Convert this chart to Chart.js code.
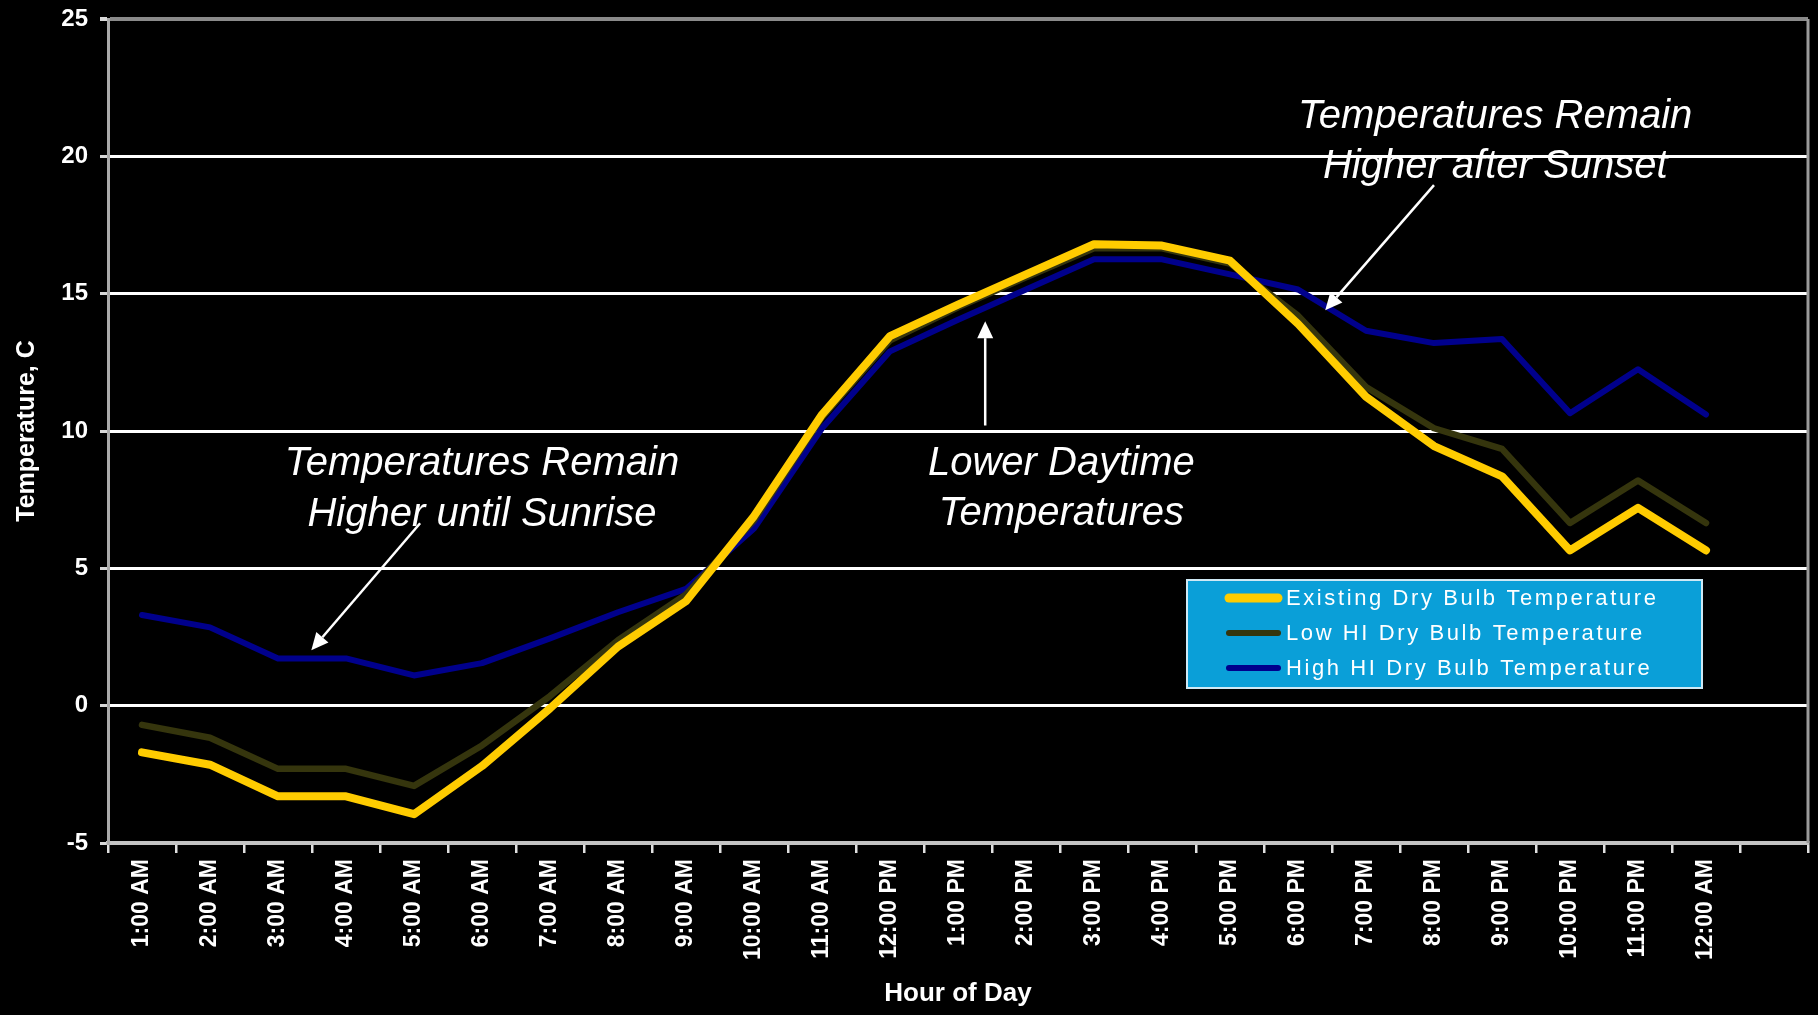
<!DOCTYPE html>
<html>
<head>
<meta charset="utf-8">
<title>Hourly Dry Bulb Temperature</title>
<script src="https://cdn.jsdelivr.net/npm/chart.js@4/dist/chart.umd.min.js"></script>
<style>
  html, body { margin: 0; padding: 0; background: #000; }
  canvas { display: block; }
</style>
</head>
<body>
<canvas id="tempChart" width="1818" height="1015"></canvas>
<script>
// Hour-of-day categories (the last slot is left empty on the axis)
const hours = ['1:00 AM', '2:00 AM', '3:00 AM', '4:00 AM', '5:00 AM', '6:00 AM',
  '7:00 AM', '8:00 AM', '9:00 AM', '10:00 AM', '11:00 AM', '12:00 PM',
  '1:00 PM', '2:00 PM', '3:00 PM', '4:00 PM', '5:00 PM', '6:00 PM',
  '7:00 PM', '8:00 PM', '9:00 PM', '10:00 PM', '11:00 PM', '12:00 AM', ''];

// Dry bulb temperatures, °C
const existingTemp = [-1.7, -2.15, -3.3, -3.3, -3.95, -2.2, -0.1, 2.15, 3.8, 6.9,
  10.6, 13.45, 14.6, 15.7, 16.8, 16.75, 16.2, 13.9, 11.25, 9.45, 8.35, 5.65, 7.2, 5.65];
const lowHiTemp = [-0.7, -1.17, -2.3, -2.3, -2.92, -1.45, 0.35, 2.38, 4.05, 6.75,
  10.5, 13.3, 14.5, 15.6, 16.65, 16.65, 16.1, 14.2, 11.6, 10.1, 9.35, 6.65, 8.2, 6.65];
const highHiTemp = [3.3, 2.85, 1.72, 1.72, 1.1, 1.55, 2.45, 3.4, 4.25, 6.45,
  10.1, 12.9, 14.05, 15.15, 16.25, 16.25, 15.7, 15.15, 13.65, 13.2, 13.35, 10.65, 12.25, 10.6];

const seriesNames = ['Existing Dry Bulb Temperature', 'Low HI Dry Bulb Temperature', 'High HI Dry Bulb Temperature'];

// Y axis range and step
const yMin = -5, yMax = 25, yStep = 5;

// Callout notes, placed in data units (category index, °C)
const notes = [
  { lines: ['Temperatures Remain', 'Higher until Sunrise'], at: [5.0, 8.39], lineGap: 1.86,
    arrowFrom: [4.09, 6.64], arrowTo: [2.49, 2.02] },
  { lines: ['Lower Daytime', 'Temperatures'], at: [13.52, 8.39], lineGap: 1.8,
    arrowFrom: [12.4, 10.2], arrowTo: [12.4, 14.0] },
  { lines: ['Temperatures Remain', 'Higher after Sunset'], at: [19.9, 21.03], lineGap: 1.83,
    arrowFrom: [19.0, 18.95], arrowTo: [17.4, 14.4] }
];

const FONT = '"Liberation Sans", Arial, Helvetica, sans-serif';

function drawArrow(ctx, x1, y1, x2, y2) {
  const ang = Math.atan2(y2 - y1, x2 - x1);
  const headLen = 17, headHalf = 8;
  const bx = x2 - headLen * Math.cos(ang), by = y2 - headLen * Math.sin(ang);
  ctx.beginPath();
  ctx.moveTo(x1, y1);
  ctx.lineTo(bx, by);
  ctx.stroke();
  ctx.beginPath();
  ctx.moveTo(x2, y2);
  ctx.lineTo(bx + headHalf * Math.sin(ang), by - headHalf * Math.cos(ang));
  ctx.lineTo(bx - headHalf * Math.sin(ang), by + headHalf * Math.cos(ang));
  ctx.closePath();
  ctx.fill();
}

// Frame edge, callouts and the boxed legend
const overlayPlugin = {
  id: 'overlay',
  beforeDraw(chart) {
    const ctx = chart.ctx;
    ctx.save();
    ctx.fillStyle = '#000';
    ctx.fillRect(0, 0, chart.width, chart.height);
    ctx.restore();
  },
  afterDraw(chart) {
    const ctx = chart.ctx;
    const { x, y } = chart.scales;
    const area = chart.chartArea;
    ctx.save();

    // right edge of the plot frame
    ctx.strokeStyle = '#9a9a9a';
    ctx.lineWidth = 3;
    ctx.beginPath();
    ctx.moveTo(area.right, area.top);
    ctx.lineTo(area.right, area.bottom);
    ctx.stroke();

    // callouts
    ctx.fillStyle = '#fff';
    ctx.strokeStyle = '#fff';
    ctx.lineWidth = 2.5;
    ctx.font = 'italic 40px ' + FONT;
    ctx.textAlign = 'center';
    ctx.textBaseline = 'alphabetic';
    notes.forEach(n => {
      const cx = x.getPixelForValue(n.at[0]);
      n.lines.forEach((t, i) => {
        ctx.fillText(t, cx, y.getPixelForValue(n.at[1] - i * n.lineGap));
      });
      drawArrow(ctx,
        x.getPixelForValue(n.arrowFrom[0]), y.getPixelForValue(n.arrowFrom[1]),
        x.getPixelForValue(n.arrowTo[0]), y.getPixelForValue(n.arrowTo[1]));
    });

    // legend box inside the plot
    const lx = 1187, ly = 580, lw = 515, lh = 108;
    ctx.fillStyle = '#0a9fd8';
    ctx.fillRect(lx, ly, lw, lh);
    ctx.strokeStyle = '#cfe9f5';
    ctx.lineWidth = 2;
    ctx.strokeRect(lx, ly, lw, lh);
    ctx.font = '22px ' + FONT;
    ctx.textAlign = 'left';
    ctx.textBaseline = 'middle';
    if ('letterSpacing' in ctx) ctx.letterSpacing = '2.6px';
    chart.data.datasets.forEach((ds, i) => {
      const rowY = ly + 18 + i * 35;
      ctx.strokeStyle = ds.borderColor;
      ctx.lineWidth = i === 0 ? 9 : 6;
      ctx.lineCap = 'round';
      ctx.beginPath();
      ctx.moveTo(lx + 42, rowY);
      ctx.lineTo(lx + 91, rowY);
      ctx.stroke();
      ctx.fillStyle = '#fff';
      ctx.fillText(ds.label, lx + 99, rowY + 1);
    });
    ctx.restore();
  }
};

const chart = new Chart(document.getElementById('tempChart'), {
  type: 'line',
  data: {
    labels: hours,
    datasets: [
      { label: seriesNames[0], data: existingTemp, borderColor: '#FFCC00', borderWidth: 8 },
      { label: seriesNames[1], data: lowHiTemp, borderColor: '#35350d', borderWidth: 6.5 },
      { label: seriesNames[2], data: highHiTemp, borderColor: '#00008c', borderWidth: 6 }
    ]
  },
  options: {
    responsive: false,
    animation: false,
    devicePixelRatio: 1,
    layout: { padding: { left: 0, right: 10, top: 19, bottom: 0 } },
    elements: {
      point: { radius: 0, hoverRadius: 0 },
      line: { tension: 0, borderJoinStyle: 'round', borderCapStyle: 'round', fill: false }
    },
    plugins: { legend: { display: false }, tooltip: { enabled: false } },
    scales: {
      x: {
        type: 'category',
        offset: true,
        grid: { offset: true, drawOnChartArea: false, color: '#e0e0e0', lineWidth: 2.5, tickLength: 10 },
        border: { color: '#c4c4c4', width: 4 },
        ticks: {
          color: '#fff', autoSkip: false, minRotation: 90, maxRotation: 90, padding: 6,
          font: { family: FONT, size: 23, weight: 'bold' }
        },
        title: {
          display: true, text: 'Hour of Day', color: '#fff',
          font: { family: FONT, size: 26, weight: 'bold' }, padding: { top: 0, bottom: 6 }
        },
        afterFit(scale) { scale.height = 172; }
      },
      y: {
        min: yMin, max: yMax,
        ticks: {
          stepSize: yStep, color: '#fff', padding: 12,
          font: { family: FONT, size: 24, weight: 'bold' }
        },
        grid: {
          color: c => (c.tick && c.tick.value === yMax) ? '#8a8a8a' : (c.tick && c.tick.value === yMin ? '#c4c4c4' : '#ffffff'),
          lineWidth: c => (c.tick && c.tick.value === yMax) ? 4 : 3,
          tickColor: '#d8d8d8',
          tickLength: 8
        },
        border: { color: '#aaaaaa', width: 3 },
        title: {
          display: true, text: 'Temperature, C', color: '#fff',
          font: { family: FONT, size: 25, weight: 'bold' }, padding: { top: 12, bottom: 0 }
        },
        afterFit(scale) {
          scale.width = 108;
          scale.paddingTop = 0;
          scale.paddingBottom = 0;
        }
      }
    }
  },
  plugins: [overlayPlugin]
});
</script>
</body>
</html>
